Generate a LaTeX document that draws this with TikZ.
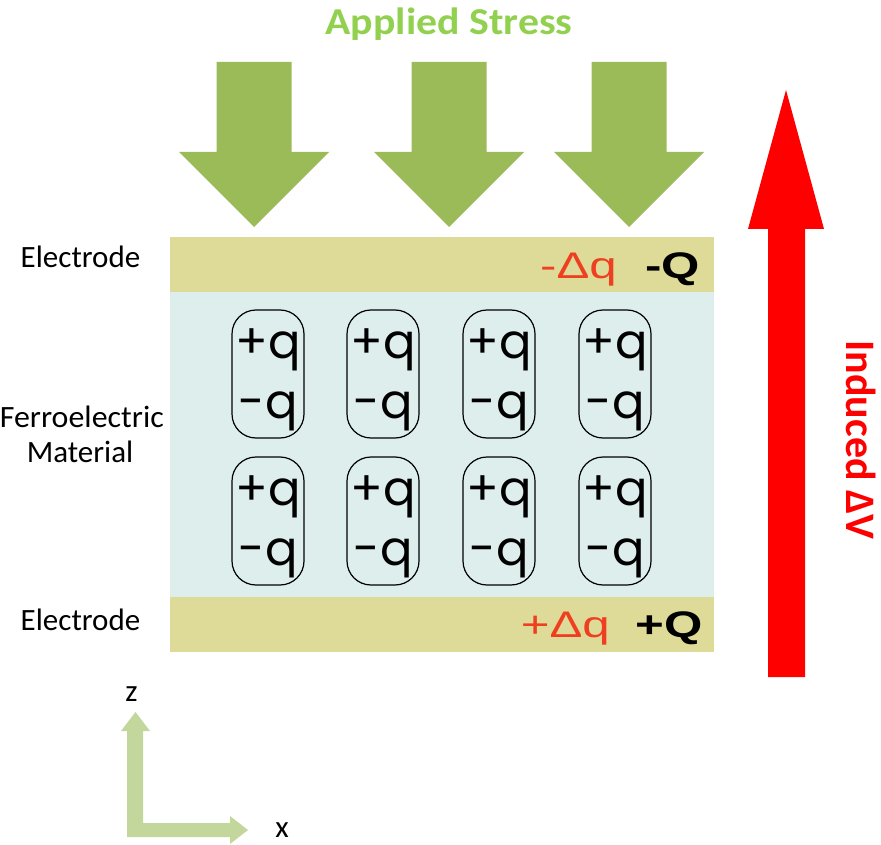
\documentclass[tikz,border=0pt]{standalone}
\usepackage{fontspec}
\setmainfont{Carlito}
\newfontfamily\arialf{Liberation Sans}
\newfontfamily\geof{Poppins}
\definecolor{elecC}{HTML}{DEDB98}
\definecolor{matC}{HTML}{DDEEED}
\definecolor{stressC}{HTML}{9BBB59}
\definecolor{stressT}{HTML}{92D050}
\definecolor{dqC}{HTML}{EE4020}
\definecolor{axisC}{HTML}{C3D69B}
\definecolor{vC}{HTML}{FF0000}
\tikzset{
  dipole/.style={draw=black, line width=1.2pt, rounded corners=24pt, minimum width=72pt, minimum height=128pt, inner sep=0pt},
  qtext/.style={font=\geof\fontsize{48}{48}\selectfont, anchor=base, inner sep=0pt},
  lbl/.style={font=\fontsize{31}{31}\selectfont, anchor=base, inner sep=0pt},
  dq/.style={font=\arialf\fontsize{37}{37}\selectfont, text=dqC, anchor=base east, inner sep=0pt, xscale=1.33},
  bigq/.style={font=\arialf\bfseries\fontsize{37}{37}\selectfont, text=black, anchor=base east, inner sep=0pt, xscale=1.33}
}
\begin{document}
\begin{tikzpicture}[x=1pt,y=-1pt]
\useasboundingbox (0,0) rectangle (881,845);
% material and electrodes
\fill[matC] (170,292) rectangle (714,597);
\fill[elecC] (170,237) rectangle (714,292);
\fill[elecC] (170,597) rectangle (714,652);
% dipoles
\foreach \cx [count=\i] in {268,383,499,615}{
  \foreach \cy/\r in {374/1,521/2}{
    \node[dipole] (d\i\r) at (\cx,\cy) {};
    \node[qtext] (p\i\r) at (\cx,\cy-16) {+q};
    \node[qtext] (m\i\r) at (\cx,\cy+44) {-q};
  }
}
% stress arrows
\foreach \cx [count=\i] in {254,449,629}{
  \fill[stressC] (\cx-37.5,62) -- (\cx+37.5,62) -- (\cx+37.5,152) -- (\cx+75,152)
    -- (\cx,227) -- (\cx-75,152) -- (\cx-37.5,152) -- cycle;
}
\node[font=\bfseries\fontsize{38}{38}\selectfont, text=stressT, anchor=base, inner sep=0pt, xscale=1.1] (stress) at (449,35) {Applied Stress};
% charges
\node[dq] (tdq) at (617,278) {-Δq};
\node[bigq] (tQ) at (700,278) {-Q};
\node[dq] (bdq) at (610,637) {+Δq};
\node[bigq] (bQ) at (703,637) {+Q};
% side labels
\node[lbl] (etop) at (80.5,268) {Electrode};
\node[lbl] (ebot) at (80.5,630) {Electrode};
\node[lbl, anchor=base east, xscale=1.03] (ferro) at (164,427) {Ferroelectric};
\node[lbl] (mat) at (80,462) {Material};
% induced voltage arrow
\fill[vC] (768,677) -- (768,229) -- (748,229) -- (786,90) -- (824,229) -- (805,229) -- (805,677) -- cycle;
\node[font=\bfseries\fontsize{42}{42}\selectfont, text=vC, rotate=-90, inner sep=0pt] (dv) at (861,440) {Induced ΔV};
% axes
\fill[axisC] (127,837) -- (127,731) -- (121,731) -- (135.5,712) -- (150,731) -- (143,731) -- (143,823)
  -- (230,823) -- (230,816) -- (248,830) -- (230,844) -- (230,837) -- cycle;
\node[lbl] (zl) at (131.5,701) {z};
\node[lbl] (xl) at (282,837) {x};
\end{tikzpicture}
\end{document}
